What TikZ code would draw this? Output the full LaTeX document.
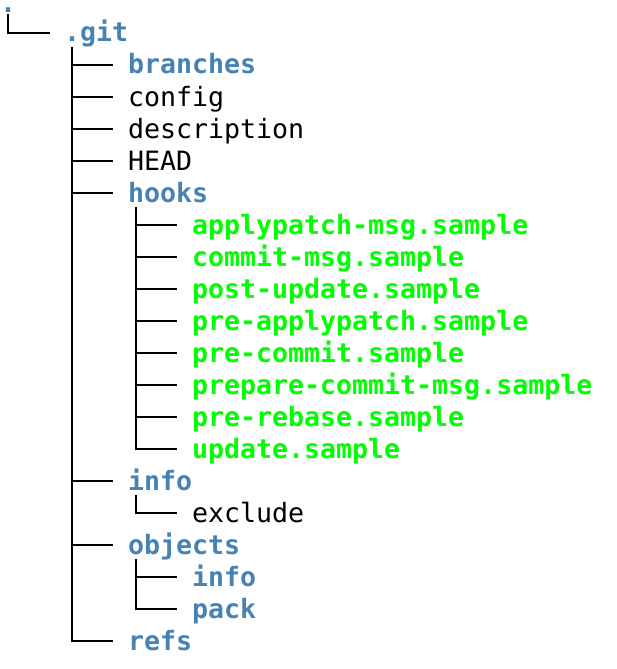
\documentclass[tikz,border=0pt]{standalone}
\usepackage{fontspec}
\setmonofont{DejaVu Sans Mono}
\usetikzlibrary{calc}
\definecolor{dirblue}{RGB}{70,130,180}
\definecolor{exegreen}{RGB}{0,255,0}
\tikzset{
  entry/.style={anchor=base west,inner sep=0pt,outer sep=0pt,font=\ttfamily\fontsize{26.6}{32}\selectfont,text=black},
  dir/.style={entry,font=\ttfamily\bfseries\fontsize{26.6}{32}\selectfont,text=dirblue},
  exe/.style={entry,font=\ttfamily\bfseries\fontsize{26.6}{32}\selectfont,text=exegreen},
  tree/.style={draw=black,line width=2.1pt}
}
\begin{document}
\begin{tikzpicture}[x=1pt,y=1pt]
\useasboundingbox (0,0) rectangle (617,-669);
% rows: center y = -(1+32k), baseline = center - 9
\node[dir]   (root)    at (0,-12.5) {.};
\node[dir]   (git)     at (64,-42)  {.git};
\node[dir]   (branches) at (128,-74) {branches};
\node[entry] (config)  at (128,-106) {config};
\node[entry] (descr)   at (128,-138) {description};
\node[entry] (head)    at (128,-170) {HEAD};
\node[dir]   (hooks)   at (128,-202) {hooks};
\node[exe]   (h1)      at (192,-234) {applypatch-msg.sample};
\node[exe]   (h2)      at (192,-266) {commit-msg.sample};
\node[exe]   (h3)      at (192,-298) {post-update.sample};
\node[exe]   (h4)      at (192,-330) {pre-applypatch.sample};
\node[exe]   (h5)      at (192,-362) {pre-commit.sample};
\node[exe]   (h6)      at (192,-394) {prepare-commit-msg.sample};
\node[exe]   (h7)      at (192,-426) {pre-rebase.sample};
\node[exe]   (h8)      at (192,-458) {update.sample};
\node[dir]   (info)    at (128,-490) {info};
\node[entry] (exclude) at (192,-522) {exclude};
\node[dir]   (objects) at (128,-554) {objects};
\node[dir]   (oinfo)   at (192,-586) {info};
\node[dir]   (opack)   at (192,-618) {pack};
\node[dir]   (refs)    at (128,-650) {refs};
% connectors
\draw[tree] (root.base west) ++(8,-2) |- ($(git.base west)+(-14,9)$);
\draw[tree] (git.base west) ++(8,-5) |- ($(refs.base west)+(-15,9)$);
\foreach \n in {branches,config,descr,head,hooks,info,objects}
  \draw[tree] ($(\n.base west)+(-56,9)$) -- ++(41,0);
\draw[tree] (hooks.base west) ++(8,-5) |- ($(h8.base west)+(-15,9)$);
\foreach \n in {h1,h2,h3,h4,h5,h6,h7}
  \draw[tree] ($(\n.base west)+(-56,9)$) -- ++(41,0);
\draw[tree] (info.base west) ++(8,-5) |- ($(exclude.base west)+(-15,9)$);
\draw[tree] (objects.base west) ++(8,-5) |- ($(opack.base west)+(-15,9)$);
\draw[tree] ($(oinfo.base west)+(-56,9)$) -- ++(41,0);
\end{tikzpicture}
\end{document}
